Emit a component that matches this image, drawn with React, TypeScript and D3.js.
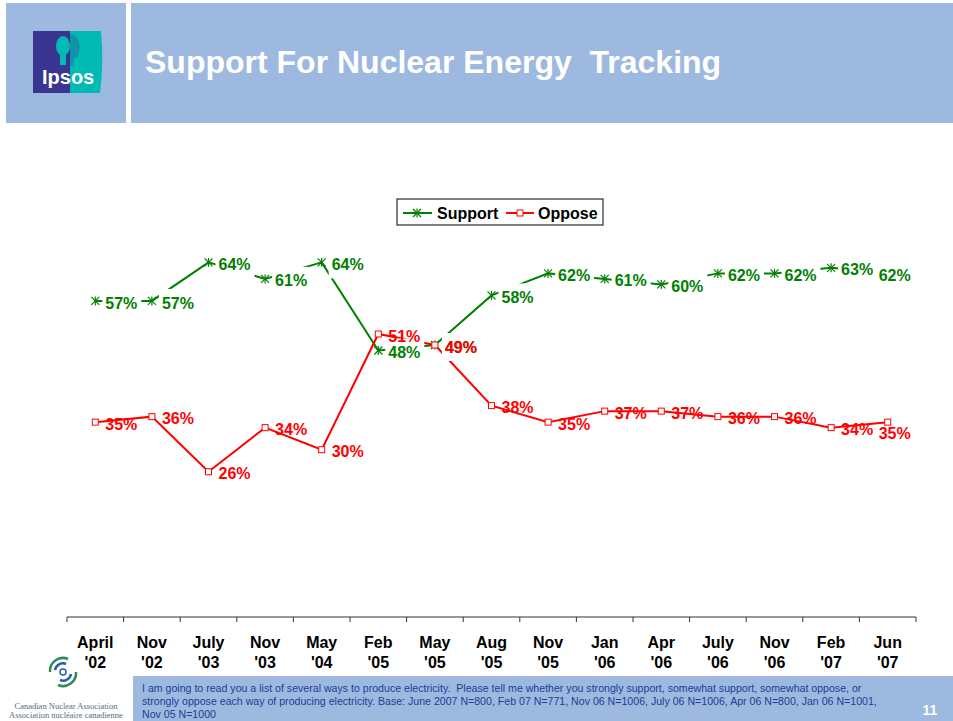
import React from "react"
import * as d3 from "d3"

// chart values
const months = ["April", "Nov", "July", "Nov", "May", "Feb", "May", "Aug", "Nov", "Jan", "Apr", "July", "Nov", "Feb", "Jun"]
const years = ["'02", "'02", "'03", "'03", "'04", "'05", "'05", "'05", "'05", "'06", "'06", "'06", "'06", "'07", "'07"]
const support = [57, 57, 64, 61, 64, 48, 49, 58, 62, 61, 60, 62, 62, 63, 62]
const oppose = [35, 36, 26, 34, 30, 51, 49, 38, 35, 37, 37, 36, 36, 34, 35]
const seriesNames = ["Support", "Oppose"]

const footnote = [
	"I am going to read you a list of several ways to produce electricity.  Please tell me whether you strongly support, somewhat support, somewhat oppose, or",
	"strongly oppose each way of producing electricity. Base: June 2007 N=800, Feb 07 N=771, Nov 06 N=1006, July 06 N=1006, Apr 06 N=800, Jan 06 N=1001,",
	"Nov 05 N=1000",
]

const W = 953
const H = 721
const GREEN = "#008000"
const RED = "#FF0000"
const BLUE_BOX = "#9DB9E0"
const FONT = "Arial, 'Liberation Sans', Helvetica, sans-serif"

const Star = ({ x, y }: { x: number; y: number }) => (
	<g transform={`translate(${x},${y})`} stroke={GREEN} strokeWidth={1.2}>
		<line x1={-4} y1={-4} x2={4} y2={4} />
		<line x1={-4} y1={4} x2={4} y2={-4} />
		<line x1={0} y1={-4.5} x2={0} y2={4.5} />
	</g>
)

const Square = ({ x, y }: { x: number; y: number }) => (
	<rect x={x - 3} y={y - 3} width={6} height={6} fill="#fff" stroke={RED} strokeWidth={1} />
)

const App = () => {
	const idx = d3.range(months.length)

	const x = d3.scaleBand<number>().domain(idx).range([67, 916]).padding(0)
	const y = d3.scaleLinear().domain([0, 100]).range([615, 64])
	const cx = (i: number) => (x(i) as number) + x.bandwidth() / 2

	const line = d3
		.line<number>()
		.x((_, i) => cx(i))
		.y(d => y(d))

	// label offsets: right of the point, last point tucked left
	const labelPos = (series: string, i: number, v: number) => {
		const last = i === months.length - 1
		const dx = last ? -9 : 10
		const dy = last && series === "Oppose" ? 11 : 2
		return { lx: cx(i) + dx, ly: y(v) + dy }
	}

	const axisY = 617

	return (
		<svg
			width={W}
			height={H}
			style={{ position: "absolute", left: 0, top: 0, background: "#fff" }}
			fontFamily={FONT}
		>
			{/* header */}
			<rect x={6} y={3} width={120} height={120} fill={BLUE_BOX} />
			<rect x={131} y={3} width={W - 131} height={120} fill={BLUE_BOX} />
			<g>
				<rect x={33} y={31} width={38} height={62} fill="#3B3592" />
				<path d="M70,31 L101,31 Q104,62 100,93 L70,93 Z" fill="#00BBB4" />
				<ellipse cx={63} cy={46} rx={7} ry={10} fill="#00BBB4" />
				<rect x={60} y={54} width={6} height={11} fill="#00BBB4" />
				<path d="M70,34 Q80,35 79,45 L81,49 L79,50 Q80,57 74,58 L73,66 L70,66 Z" fill="#3B3592" opacity={0.3} />
				<text x={42} y={84} fill="#fff" fontWeight="bold" fontSize={20}>Ipsos</text>
			</g>
			<text x={145} y={73} fill="#fff" fontWeight="bold" fontSize={32} style={{ whiteSpace: "pre" }}>
				{"Support For Nuclear Energy  Tracking"}
			</text>

			{/* legend */}
			<rect x={397} y={199} width={206} height={26} fill="#fff" stroke="#000" strokeWidth={1} />
			<line x1={403} x2={432} y1={213} y2={213} stroke={GREEN} strokeWidth={2} />
			<Star x={417} y={213} />
			<text x={437} y={219} fontWeight="bold" fontSize={16} fill="#000">{seriesNames[0]}</text>
			<line x1={506} x2={534} y1={213} y2={213} stroke={RED} strokeWidth={2} />
			<Square x={520} y={213} />
			<text x={538} y={219} fontWeight="bold" fontSize={16} fill="#000">{seriesNames[1]}</text>

			{/* axis */}
			<line x1={67} x2={916} y1={axisY} y2={axisY} stroke="#333" strokeWidth={1} />
			{[...idx, months.length].map(i => {
				const tx = i < months.length ? (x(i) as number) : 916
				return <line key={i} x1={tx} x2={tx} y1={axisY} y2={axisY + 5} stroke="#333" strokeWidth={1} />
			})}
			{idx.map(i => (
				<text key={i} textAnchor="middle" fontWeight="bold" fontSize={16} fill="#000">
					<tspan x={cx(i)} y={648}>{months[i]}</tspan>
					<tspan x={cx(i)} y={668}>{years[i]}</tspan>
				</text>
			))}

			{/* lines */}
			<path d={line(support) as string} fill="none" stroke={GREEN} strokeWidth={2} />
			<path d={line(oppose) as string} fill="none" stroke={RED} strokeWidth={2} />
			{support.map((v, i) => <Star key={i} x={cx(i)} y={y(v)} />)}
			{oppose.map((v, i) => <Square key={i} x={cx(i)} y={y(v)} />)}

			{/* support labels sit on white boxes */}
			{support.map((v, i) => {
				const { lx, ly } = labelPos("Support", i, v)
				return (
					<g key={i}>
						<rect x={lx - 3} y={ly - 14} width={39} height={28} fill="#fff" />
						<text x={lx} y={ly} dy="0.35em" fontWeight="bold" fontSize={16} fill={GREEN}>{v}%</text>
					</g>
				)
			})}
			{oppose.map((v, i) => {
				const { lx, ly } = labelPos("Oppose", i, v)
				return (
					<text key={i} x={lx} y={ly} dy="0.35em" fontWeight="bold" fontSize={16} fill={RED}>{v}%</text>
				)
			})}

			{/* footer */}
			<rect x={133} y={676} width={W - 133} height={H - 676} fill={BLUE_BOX} />
			{footnote.map((t, i) => (
				<text key={i} x={142} y={692 + i * 13} fontSize={10.6} fill="#1F3C94" style={{ whiteSpace: "pre" }}>{t}</text>
			))}
			<text x={930} y={715} textAnchor="middle" fontWeight="bold" fontSize={14} fill="#fff">11</text>

			{/* CNA logo */}
			<g fill="none" strokeWidth={2.5}>
				<path d="M50,672 A13,13 0 0 1 68,659" stroke="#2E8B57" />
				<path d="M76,672 A13,13 0 0 1 58,685" stroke="#2E8B57" />
				<path d="M55,670 A8,8 0 0 1 66,664" stroke="#2A5DA8" />
				<path d="M71,674 A8,8 0 0 1 60,680" stroke="#2A5DA8" />
				<circle cx={63} cy={672} r={3} stroke="#2A5DA8" strokeWidth={1.5} />
			</g>
			<text x={66} y={709} textAnchor="middle" fontFamily="'Liberation Serif', 'DejaVu Serif', serif" fontSize={8.5} fill="#5A6A80">
				Canadian Nuclear Association
			</text>
			<text x={66} y={718} textAnchor="middle" fontFamily="'Liberation Serif', 'DejaVu Serif', serif" fontSize={8.5} fill="#5A6A80">
				Association nucléaire canadienne
			</text>
		</svg>
	)
}

export default App
